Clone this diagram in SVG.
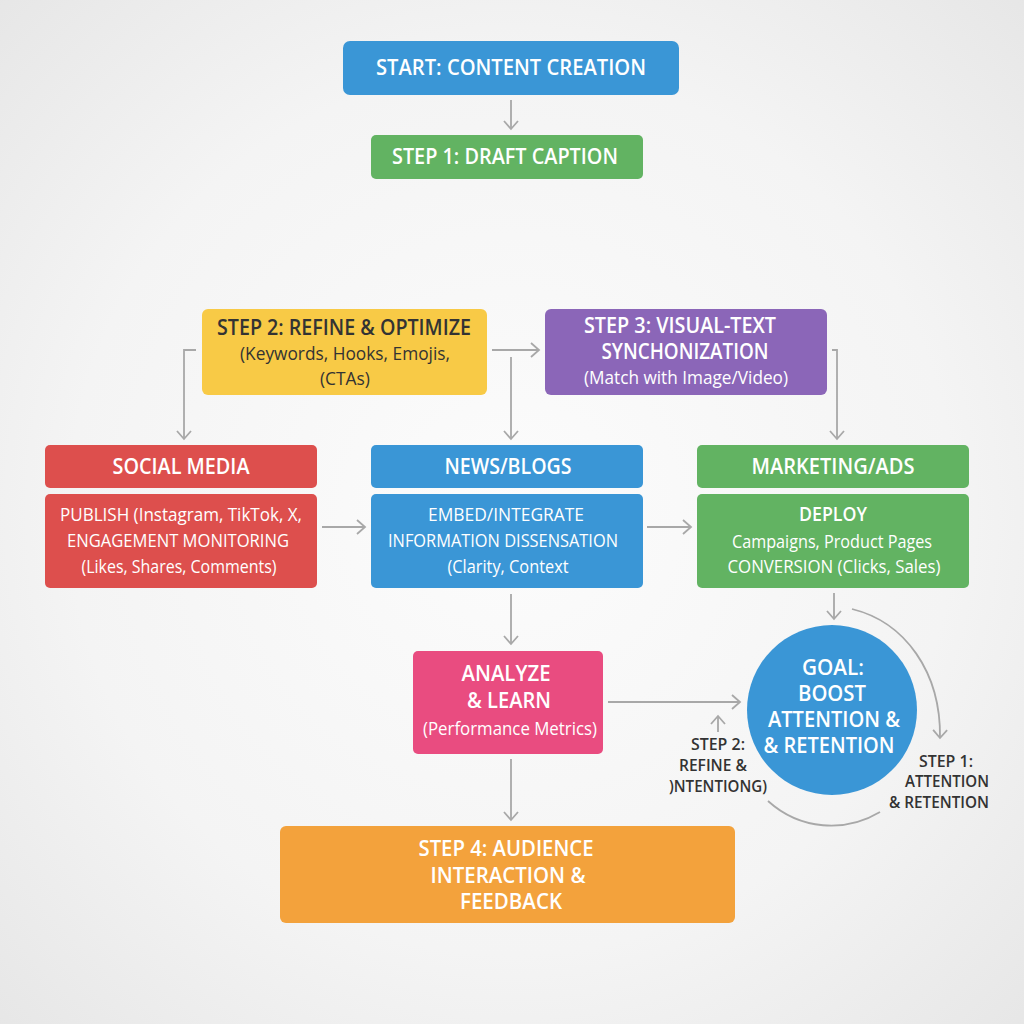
<svg xmlns="http://www.w3.org/2000/svg" width="1024" height="1024" viewBox="0 0 1024 1024">
<style>
text{font-family:"Open Sans","Noto Sans","Liberation Sans",sans-serif;text-anchor:middle;fill:#fff}
.h{font-weight:600;font-size:22px}
.b{font-size:18.5px}
.m{font-weight:500;font-size:19px}
.d{fill:#333}
.c{fill:none;stroke:#a8a8a8;stroke-width:1.8}
text.s{font-weight:600;font-size:16.5px;fill:#333}
</style>
<defs>
<radialGradient id="bg" cx="50%" cy="50%" r="72%"><stop offset="0" stop-color="#fcfcfc"/><stop offset=".6" stop-color="#f4f4f4"/><stop offset="1" stop-color="#e6e6e6"/></radialGradient>
<marker id="a" viewBox="0 0 16 16" refX="14" refY="8" markerWidth="16" markerHeight="16" markerUnits="userSpaceOnUse" orient="auto"><path d="M6 1L14 8L6 15" fill="none" stroke="#a8a8a8" stroke-width="1.8"/></marker>
</defs>
<rect width="1024" height="1024" fill="url(#bg)"/>
<g id="connectors">
<path class="c" marker-end="url(#a)" d="M511 100V129"/>
<path class="c" marker-end="url(#a)" d="M196 350H184V439"/>
<path class="c" marker-end="url(#a)" d="M492 350H539"/>
<path class="c" marker-end="url(#a)" d="M511 357V439"/>
<path class="c" marker-end="url(#a)" d="M832 350H837V439"/>
<path class="c" marker-end="url(#a)" d="M322 527H365"/>
<path class="c" marker-end="url(#a)" d="M647 527H691"/>
<path class="c" marker-end="url(#a)" d="M511 594V644"/>
<path class="c" marker-end="url(#a)" d="M834 593V619"/>
<path class="c" marker-end="url(#a)" d="M608 702H740"/>
<path class="c" marker-end="url(#a)" d="M511 759V820"/>
<path class="c" marker-end="url(#a)" d="M852 609C905 622 941 672 940 738"/>
<path class="c" marker-end="url(#a)" d="M718 732V716"/>
<path class="c" d="M768 801C800 830 845 833 880 812"/>
</g>
<g id="start"><rect x="343" y="41" width="336" height="54" rx="7" fill="#3a96d6"/><text class="h" x="511" y="75" textLength="270" lengthAdjust="spacingAndGlyphs">START: CONTENT CREATION</text></g>
<g id="step1"><rect x="371" y="135" width="272" height="44" rx="5" fill="#62b362"/><text class="h" x="505" y="164" textLength="226" lengthAdjust="spacingAndGlyphs">STEP 1: DRAFT CAPTION</text></g>
<g id="step2"><rect x="202" y="309" width="285" height="86" rx="6" fill="#f8ca46"/><text class="h d" x="344" y="335" textLength="254" lengthAdjust="spacingAndGlyphs">STEP 2: REFINE &amp; OPTIMIZE</text><text class="b d" x="345" y="360" textLength="210" lengthAdjust="spacingAndGlyphs">(Keywords, Hooks, Emojis,</text><text class="b d" x="345" y="385" textLength="50" lengthAdjust="spacingAndGlyphs">(CTAs)</text></g>
<g id="step3"><rect x="545" y="309" width="282" height="86" rx="6" fill="#8b66b8"/><text class="h" x="680" y="333" textLength="192" lengthAdjust="spacingAndGlyphs">STEP 3: VISUAL-TEXT</text><text class="h" x="685" y="359" textLength="167" lengthAdjust="spacingAndGlyphs">SYNCHONIZATION</text><text class="b" x="686" y="384" textLength="204" lengthAdjust="spacingAndGlyphs">(Match with Image/Video)</text></g>
<g id="social-media"><rect x="45" y="445" width="272" height="43" rx="5" fill="#dd4f4d"/><text class="h" x="181" y="474" textLength="137" lengthAdjust="spacingAndGlyphs">SOCIAL MEDIA</text></g>
<g id="publish"><rect x="45" y="494" width="272" height="94" rx="5" fill="#dd4f4d"/><text class="m" x="181" y="521" textLength="242" lengthAdjust="spacingAndGlyphs">PUBLISH (Instagram, TikTok, X,</text><text class="m" x="178" y="547" textLength="222" lengthAdjust="spacingAndGlyphs">ENGAGEMENT MONITORING</text><text class="b" x="179" y="573" textLength="195" lengthAdjust="spacingAndGlyphs">(Likes, Shares, Comments)</text></g>
<g id="news-blogs"><rect x="371" y="445" width="272" height="43" rx="5" fill="#3a96d6"/><text class="h" x="508" y="474" textLength="127" lengthAdjust="spacingAndGlyphs">NEWS/BLOGS</text></g>
<g id="embed"><rect x="371" y="494" width="272" height="94" rx="5" fill="#3a96d6"/><text class="m" x="506" y="521" textLength="156" lengthAdjust="spacingAndGlyphs">EMBED/INTEGRATE</text><text class="m" x="503" y="547" textLength="230" lengthAdjust="spacingAndGlyphs">INFORMATION DISSENSATION</text><text class="b" x="508" y="573" textLength="121" lengthAdjust="spacingAndGlyphs">(Clarity, Context</text></g>
<g id="marketing-ads"><rect x="697" y="445" width="272" height="43" rx="5" fill="#62b362"/><text class="h" x="833" y="474" textLength="163" lengthAdjust="spacingAndGlyphs">MARKETING/ADS</text></g>
<g id="deploy"><rect x="697" y="494" width="272" height="94" rx="5" fill="#62b362"/><text class="m" style="font-weight:600" x="833" y="521" textLength="68" lengthAdjust="spacingAndGlyphs">DEPLOY</text><text class="b" x="832" y="548" textLength="200" lengthAdjust="spacingAndGlyphs">Campaigns, Product Pages</text><text class="m" x="834" y="573" textLength="213" lengthAdjust="spacingAndGlyphs">CONVERSION (Clicks, Sales)</text></g>
<g id="analyze"><rect x="413" y="651" width="190" height="103" rx="5" fill="#e94c80"/><text class="h" x="506" y="681" textLength="89" lengthAdjust="spacingAndGlyphs">ANALYZE</text><text class="h" x="509" y="708" textLength="84" lengthAdjust="spacingAndGlyphs">&amp; LEARN</text><text class="b" x="510" y="735" textLength="174" lengthAdjust="spacingAndGlyphs">(Performance Metrics)</text></g>
<g id="step4"><rect x="280" y="826" width="455" height="97" rx="6" fill="#f3a23c"/><text class="h" x="506" y="856" textLength="175" lengthAdjust="spacingAndGlyphs">STEP 4: AUDIENCE</text><text class="h" x="508" y="883" textLength="155" lengthAdjust="spacingAndGlyphs">INTERACTION &amp;</text><text class="h" x="511" y="909" textLength="102" lengthAdjust="spacingAndGlyphs">FEEDBACK</text></g>
<g id="goal"><circle cx="832" cy="710" r="85" fill="#3a96d6"/><text class="h" x="833" y="675" textLength="62" lengthAdjust="spacingAndGlyphs">GOAL:</text><text class="h" x="832" y="701" textLength="68" lengthAdjust="spacingAndGlyphs">BOOST</text><text class="h" x="834" y="727" textLength="132" lengthAdjust="spacingAndGlyphs">ATTENTION &amp;</text><text class="h" x="829" y="753" textLength="131" lengthAdjust="spacingAndGlyphs">&amp; RETENTION</text></g>
<g id="label-step2"><text class="s" x="718" y="750" textLength="54" lengthAdjust="spacingAndGlyphs">STEP 2:</text><text class="s" x="713" y="771" textLength="68" lengthAdjust="spacingAndGlyphs">REFINE &amp;</text><text class="s" x="718" y="792" textLength="98" lengthAdjust="spacingAndGlyphs">)NTENTIONG)</text></g>
<g id="label-step1"><text class="s" x="946" y="767" textLength="54" lengthAdjust="spacingAndGlyphs">STEP 1:</text><text class="s" x="947" y="787" textLength="84" lengthAdjust="spacingAndGlyphs">ATTENTION</text><text class="s" x="939" y="808" textLength="100" lengthAdjust="spacingAndGlyphs">&amp; RETENTION</text></g>
</svg>
